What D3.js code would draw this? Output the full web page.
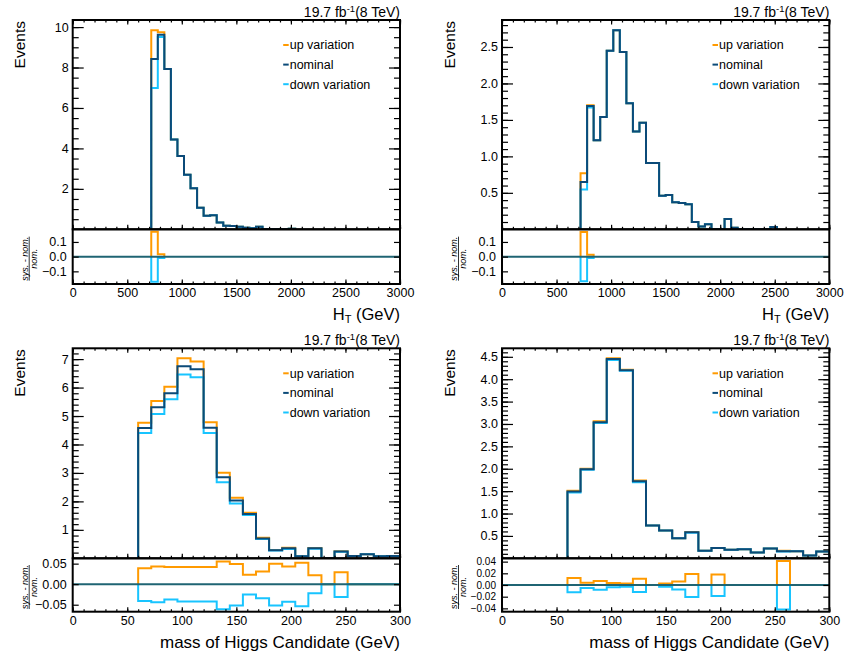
<!DOCTYPE html>
<meta charset="utf-8">
<style>
body { margin: 0; background: #fff; }
svg { font-family: "Liberation Sans", Arial, Helvetica, sans-serif; }
.axis path.domain { display: none; }
.axis line { stroke: #000; stroke-width: 1.2; }
.axis text { font-size: 12.5px; fill: #000; font-family: "Liberation Sans", Arial, sans-serif; }
.frame { fill: none; stroke: #000; stroke-width: 2; }
.hist { fill: none; stroke-width: 2; stroke-linejoin: miter; }
</style>
<svg width="845" height="657"></svg>
<script src="https://d3js.org/d3.v7.min.js"></script>
<script>

// ---- binning ----
var htBinLow = 720, htBinWidth = 60;
var massBinLow = 60, massBinWidth = 12;

// ---- H_T, left selection ----
var htA_up   = [9.84, 9.75, 7.93, 4.44, 3.62, 2.70, 2.03, 1.07, 0.67, 0.70, 0.34, 0.18, 0.16, 0.12, 0.08, 0.05, 0.13, 0, 0, 0, 0, 0.03];
var htA_nom  = [8.42, 9.62, 7.93, 4.44, 3.62, 2.70, 2.03, 1.07, 0.67, 0.70, 0.34, 0.18, 0.16, 0.12, 0.08, 0.05, 0.13, 0, 0, 0, 0, 0.03];
var htA_down = [6.99, 9.51, 7.93, 4.44, 3.62, 2.70, 2.03, 1.07, 0.67, 0.70, 0.34, 0.18, 0.16, 0.12, 0.08, 0.05, 0.13, 0, 0, 0, 0, 0.03];
var htA_rUp   = [0.170, 0.016];
var htA_rDown = [-0.170, -0.009];

// ---- H_T, right selection ----
var htB_up   = [0.77, 1.70, 1.22, 1.54, 2.45, 2.73, 2.43, 1.73, 1.34, 1.46, 0.91, 0.91, 0.46, 0.47, 0.37, 0.36, 0.345, 0.10, 0.04, 0.07, 0, 0, 0.14, 0.02, 0, 0, 0, 0, 0, 0.03];
var htB_nom  = [0.65, 1.69, 1.22, 1.54, 2.45, 2.73, 2.43, 1.73, 1.34, 1.46, 0.91, 0.91, 0.46, 0.47, 0.37, 0.36, 0.345, 0.10, 0.04, 0.07, 0, 0, 0.14, 0.02, 0, 0, 0, 0, 0, 0.03];
var htB_down = [0.545, 1.67, 1.22, 1.54, 2.45, 2.73, 2.43, 1.73, 1.34, 1.46, 0.91, 0.91, 0.46, 0.47, 0.37, 0.36, 0.345, 0.10, 0.04, 0.07, 0, 0, 0.14, 0.02, 0, 0, 0, 0, 0, 0.03];
var htB_rUp   = [0.167, 0.013];
var htB_rDown = [-0.167, -0.009];

// ---- Higgs mass, left selection ----
var mA_up   = [4.76, 5.53, 6.03, 7.03, 6.92, 4.78, 3.01, 2.13, 1.60, 0.72, 0.29, 0.37, 0.07, 0.36, 0, 0.25, 0.08, 0.14, 0.07, 0.08];
var mA_nom  = [4.58, 5.31, 5.80, 6.75, 6.64, 4.59, 2.85, 2.03, 1.56, 0.70, 0.28, 0.35, 0.07, 0.35, 0, 0.24, 0.08, 0.14, 0.07, 0.08];
var mA_down = [4.40, 5.07, 5.59, 6.46, 6.36, 4.40, 2.67, 1.93, 1.52, 0.68, 0.27, 0.33, 0.07, 0.34, 0, 0.23, 0.08, 0.14, 0.07, 0.08];
var mA_rUp   = [0.039, 0.043, 0.042, 0.042, 0.042, 0.042, 0.055, 0.049, 0.023, 0.031, 0.050, 0.043, 0.052, 0.022, 0, 0.029, 0, 0, 0, 0];
var mA_rDown = [-0.041, -0.044, -0.037, -0.042, -0.042, -0.042, -0.061, -0.052, -0.025, -0.034, -0.052, -0.043, -0.054, -0.022, 0, -0.031, 0, 0, 0, 0];

// ---- Higgs mass, right selection ----
var mB_up   = [1.51, 2.00, 3.06, 4.47, 4.21, 1.74, 0.73, 0.62, 0.45, 0.59, 0.17, 0.23, 0.19, 0.20, 0.13, 0.22, 0.17, 0.16, 0.06, 0.15];
var mB_nom  = [1.49, 1.99, 3.04, 4.45, 4.20, 1.72, 0.73, 0.62, 0.45, 0.58, 0.17, 0.23, 0.19, 0.20, 0.13, 0.22, 0.16, 0.16, 0.06, 0.15];
var mB_down = [1.47, 1.98, 3.02, 4.43, 4.19, 1.70, 0.73, 0.62, 0.45, 0.57, 0.17, 0.23, 0.19, 0.20, 0.13, 0.22, 0.15, 0.16, 0.06, 0.15];
var mB_rUp   = [0.012, 0.004, 0.007, 0.0035, 0.0025, 0.0105, 0, 0.0025, 0.006, 0.019, 0, 0.018, 0, 0, 0, 0, 0.041, 0, 0, 0];
var mB_rDown = [-0.0125, -0.005, -0.008, -0.004, -0.003, -0.012, 0, -0.003, -0.0075, -0.0205, 0, -0.019, 0, 0, 0, 0, -0.042, 0, 0, 0];

// ---- axis ranges and tick labels ----
var htRange = [0, 3000], htTicks = [0, 500, 1000, 1500, 2000, 2500, 3000];
var massRange = [0, 300], massTicks = [0, 50, 100, 150, 200, 250, 300];
var htA_yRange = [0, 10.35], htA_yTicks = [2, 4, 6, 8, 10];
var htB_yRange = [0, 2.87], htB_yTicks = [0.5, 1.0, 1.5, 2.0, 2.5];
var mA_yRange = [0, 7.38], mA_yTicks = [1, 2, 3, 4, 5, 6, 7];
var mB_yRange = [0, 4.69], mB_yTicks = [0.5, 1.0, 1.5, 2.0, 2.5, 3.0, 3.5, 4.0, 4.5];
var htRatioRange = [-0.186, 0.186], htRatioTicks = [-0.1, 0.0, 0.1];
var mA_rRange = [-0.067, 0.063], mA_rTicks = [-0.05, 0.0, 0.05];
var mB_rRange = [-0.0457, 0.0457], mB_rTicks = [-0.04, -0.02, 0.0, 0.02, 0.04];

var legendLabels = ["up variation", "nominal", "down variation"];
var colUp = "#ff9a00", colNom = "#0b4a78", colDown = "#18c4ff", colZero = "#1f6473";

var svg = d3.select("svg");
var defs = svg.append("defs");

function stepPoints(binLow, binWidth, vals) {
  var pts = [[binLow, 0]];
  vals.forEach(function(v, i) {
    pts.push([binLow + i * binWidth, v]);
    pts.push([binLow + (i + 1) * binWidth, v]);
  });
  pts.push([binLow + vals.length * binWidth, 0]);
  return pts;
}

function drawPanel(p) {
  var g = svg.append("g");
  var x = d3.scaleLinear().domain(p.xRange).range([p.left, p.right]);
  var y = d3.scaleLinear().domain(p.yRange).range([p.split, p.top]);
  var r = d3.scaleLinear().domain(p.rRange).range([p.bottom, p.split]);

  defs.append("clipPath").attr("id", "cm" + p.id).append("rect")
    .attr("x", p.left).attr("y", p.top).attr("width", p.right - p.left).attr("height", p.split - p.top);
  defs.append("clipPath").attr("id", "cr" + p.id).append("rect")
    .attr("x", p.left).attr("y", p.split).attr("width", p.right - p.left).attr("height", p.bottom - p.split);

  var lineM = d3.line().x(function(d) { return x(d[0]); }).y(function(d) { return y(d[1]); });
  var lineR = d3.line().x(function(d) { return x(d[0]); }).y(function(d) { return r(d[1]); });

  // main histograms
  var gm = g.append("g").attr("clip-path", "url(#cm" + p.id + ")");
  [[p.up, colUp], [p.down, colDown], [p.nom, colNom]].forEach(function(s) {
    gm.append("path").attr("class", "hist")
      .attr("d", lineM(stepPoints(p.binLow, p.binWidth, s[0])))
      .attr("stroke", s[1]);
  });

  // ratio histograms
  var gr = g.append("g").attr("clip-path", "url(#cr" + p.id + ")");
  [[p.rUp, colUp], [p.rDown, colDown]].forEach(function(s) {
    gr.append("path").attr("class", "hist")
      .attr("d", lineR(stepPoints(p.binLow, p.binWidth, s[0])))
      .attr("stroke", s[1]);
  });
  gr.append("line")
    .attr("x1", x(p.xRange[0])).attr("x2", x(p.xRange[1]))
    .attr("y1", r(0)).attr("y2", r(0))
    .attr("stroke", colZero).attr("stroke-width", 2);

  // main axes
  g.append("g").attr("class", "axis").attr("transform", "translate(" + p.left + ",0)")
    .call(d3.axisLeft(y).tickValues(p.yTicks).tickSize(-11).tickSizeOuter(0).tickPadding(4).tickFormat(p.yFmt));
  g.append("g").attr("class", "axis").attr("transform", "translate(" + p.left + ",0)")
    .call(d3.axisLeft(y).tickValues(p.yMinor).tickSize(-6).tickSizeOuter(0).tickFormat(""));
  g.append("g").attr("class", "axis").attr("transform", "translate(" + p.right + ",0)")
    .call(d3.axisRight(y).tickValues(p.yTicks).tickSize(-11).tickSizeOuter(0).tickFormat(""));
  g.append("g").attr("class", "axis").attr("transform", "translate(" + p.right + ",0)")
    .call(d3.axisRight(y).tickValues(p.yMinor).tickSize(-6).tickSizeOuter(0).tickFormat(""));
  g.append("g").attr("class", "axis").attr("transform", "translate(0," + p.split + ")")
    .call(d3.axisBottom(x).tickValues(p.xTicks).tickSize(-4.5).tickSizeOuter(0).tickFormat(""));
  g.append("g").attr("class", "axis").attr("transform", "translate(0," + p.split + ")")
    .call(d3.axisBottom(x).tickValues(p.xMinor).tickSize(-2.5).tickSizeOuter(0).tickFormat(""));
  g.append("g").attr("class", "axis").attr("transform", "translate(0," + p.top + ")")
    .call(d3.axisTop(x).tickValues(p.xTicks).tickSize(-4.5).tickSizeOuter(0).tickFormat(""));
  g.append("g").attr("class", "axis").attr("transform", "translate(0," + p.top + ")")
    .call(d3.axisTop(x).tickValues(p.xMinor).tickSize(-2.5).tickSizeOuter(0).tickFormat(""));

  // ratio axes
  g.append("g").attr("class", "axis").attr("transform", "translate(" + p.left + ",0)")
    .call(d3.axisLeft(r).tickValues(p.rTicks).tickSize(-6).tickSizeOuter(0).tickPadding(6).tickFormat(p.rFmt))
    .selectAll("text").style("font-size", p.rFont);
  g.append("g").attr("class", "axis").attr("transform", "translate(" + p.right + ",0)")
    .call(d3.axisRight(r).tickValues(p.rTicks).tickSize(-6).tickSizeOuter(0).tickFormat(""));
  g.append("g").attr("class", "axis").attr("transform", "translate(0," + p.bottom + ")")
    .call(d3.axisBottom(x).tickValues(p.xTicks).tickSize(-4.5).tickSizeOuter(0).tickPadding(4).tickFormat(d3.format("d")));
  g.append("g").attr("class", "axis").attr("transform", "translate(0," + p.bottom + ")")
    .call(d3.axisBottom(x).tickValues(p.xMinor).tickSize(-2.5).tickSizeOuter(0).tickFormat(""));

  // frames
  g.append("rect").attr("class", "frame")
    .attr("x", p.left).attr("y", p.top).attr("width", p.right - p.left).attr("height", p.split - p.top);
  g.append("rect").attr("class", "frame")
    .attr("x", p.left).attr("y", p.split).attr("width", p.right - p.left).attr("height", p.bottom - p.split);

  // lumi label
  var lumi = g.append("text").attr("x", p.right).attr("y", p.top - 3.5)
    .attr("text-anchor", "end").style("font-size", "14px");
  lumi.append("tspan").text("19.7 fb");
  lumi.append("tspan").attr("dy", -5).style("font-size", "9.5px").text("-1");
  lumi.append("tspan").attr("dy", 5).text("(8 TeV)");

  // y title
  g.append("text")
    .attr("transform", "translate(" + (p.left - 47.5) + "," + (p.top + 1) + ") rotate(-90)")
    .attr("text-anchor", "end").style("font-size", "15.5px").text("Events");

  // ratio title (fraction)
  var fy = (p.split + p.bottom) / 2 + 2;
  var fr = g.append("g").attr("transform", "translate(" + (p.left - 43.5) + "," + fy + ") rotate(-90)")
    .style("font-size", "9px").style("font-style", "italic").attr("fill", "#000");
  fr.append("text").attr("y", -1.5).attr("text-anchor", "middle").text("sys. - nom.");
  fr.append("line").attr("x1", -22).attr("x2", 22).attr("y1", 0).attr("y2", 0)
    .attr("stroke", "#000").attr("stroke-width", 0.8);
  fr.append("text").attr("y", 7.5).attr("text-anchor", "middle").text("nom.");

  // x title
  var xt = g.append("text").attr("x", p.right).attr("y", p.xTitleY)
    .attr("text-anchor", "end").style("font-size", "16.5px");
  if (p.xTitle === "HT") {
    xt.append("tspan").text("H");
    xt.append("tspan").attr("dy", 3).style("font-size", "11px").text("T");
    xt.append("tspan").attr("dy", -3).text(" (GeV)");
  } else {
    xt.style("font-size", "17px").text(p.xTitle);
  }

  // legend
  var cols = [colUp, colNom, colDown];
  legendLabels.forEach(function(lab, i) {
    var cy = p.top + 25 + i * 19.6;
    g.append("line").attr("x1", p.left + 210.5).attr("x2", p.left + 216)
      .attr("y1", cy).attr("y2", cy).attr("stroke", cols[i]).attr("stroke-width", 2);
    g.append("text").attr("x", p.left + 217).attr("y", cy + 4.3)
      .style("font-size", "12.5px").text(lab);
  });
}

var f1 = d3.format(".1f"), f2 = d3.format(".2f"), f0 = d3.format("d");

drawPanel({id: 1, left: 72.7, right: 400, top: 20, split: 229.3, bottom: 284, xTitleY: 320,
  xRange: htRange, xTicks: htTicks, xMinor: d3.range(0, 3001, 100),
  yRange: htA_yRange, yTicks: htA_yTicks, yMinor: d3.range(0.5, 10.35, 0.5), yFmt: f0,
  rRange: htRatioRange, rTicks: htRatioTicks, rFmt: f1, rFont: "12.5px",
  binLow: htBinLow, binWidth: htBinWidth,
  up: htA_up, nom: htA_nom, down: htA_down, rUp: htA_rUp, rDown: htA_rDown, xTitle: "HT"});

drawPanel({id: 2, left: 502, right: 829.3, top: 20, split: 229.3, bottom: 284, xTitleY: 320,
  xRange: htRange, xTicks: htTicks, xMinor: d3.range(0, 3001, 100),
  yRange: htB_yRange, yTicks: htB_yTicks, yMinor: d3.range(0.1, 2.87, 0.1), yFmt: f1,
  rRange: htRatioRange, rTicks: htRatioTicks, rFmt: f1, rFont: "12.5px",
  binLow: htBinLow, binWidth: htBinWidth,
  up: htB_up, nom: htB_nom, down: htB_down, rUp: htB_rUp, rDown: htB_rDown, xTitle: "HT"});

drawPanel({id: 3, left: 72.7, right: 400, top: 348.3, split: 558.3, bottom: 611.7, xTitleY: 648,
  xRange: massRange, xTicks: massTicks, xMinor: d3.range(0, 301, 10),
  yRange: mA_yRange, yTicks: mA_yTicks, yMinor: d3.range(0.2, 7.38, 0.2), yFmt: f0,
  rRange: mA_rRange, rTicks: mA_rTicks, rFmt: f2, rFont: "12.5px",
  binLow: massBinLow, binWidth: massBinWidth,
  up: mA_up, nom: mA_nom, down: mA_down, rUp: mA_rUp, rDown: mA_rDown, xTitle: "mass of Higgs Candidate (GeV)"});

drawPanel({id: 4, left: 502, right: 829.3, top: 348.3, split: 558.3, bottom: 611.7, xTitleY: 648,
  xRange: massRange, xTicks: massTicks, xMinor: d3.range(0, 301, 10),
  yRange: mB_yRange, yTicks: mB_yTicks, yMinor: d3.range(0.1, 4.69, 0.1), yFmt: f1,
  rRange: mB_rRange, rTicks: mB_rTicks, rFmt: f2, rFont: "10px",
  binLow: massBinLow, binWidth: massBinWidth,
  up: mB_up, nom: mB_nom, down: mB_down, rUp: mB_rUp, rDown: mB_rDown, xTitle: "mass of Higgs Candidate (GeV)"});

</script>
